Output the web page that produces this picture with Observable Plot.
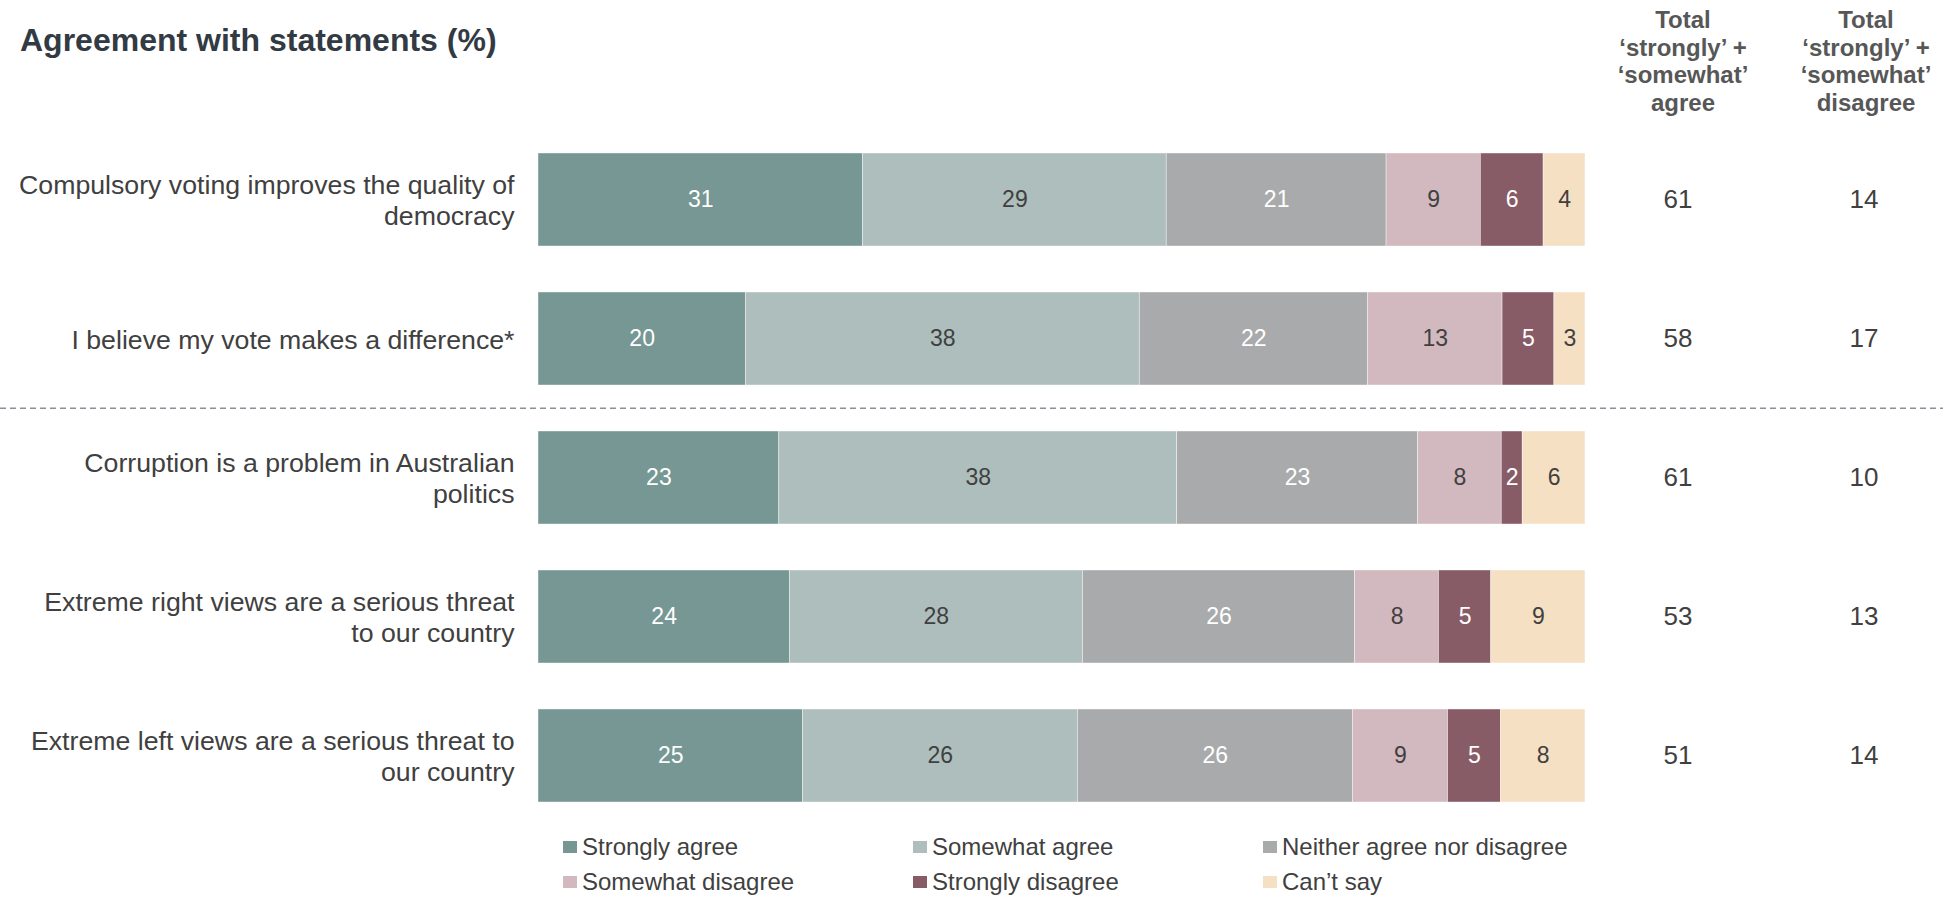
<!DOCTYPE html>
<html>
<head>
<meta charset="utf-8">
<script src="https://cdn.jsdelivr.net/npm/d3@7"></script>
<script src="https://cdn.jsdelivr.net/npm/@observablehq/plot@0.6"></script>
<style>
  html, body { margin: 0; padding: 0; background: #ffffff; }
  #wrap { position: relative; width: 1950px; height: 898px; font-family: "Liberation Sans", Arial, sans-serif; overflow: hidden; }
  #chart { position: absolute; left: 0; top: 0; }
  #title { position: absolute; left: 20px; top: 24px; font-size: 32px; line-height: 32px; font-weight: bold; color: #323a44; white-space: nowrap; }
  .head { position: absolute; top: 6px; width: 200px; text-align: center; font-size: 24px; line-height: 27.5px; font-weight: bold; color: #575757; }
  #legend { position: absolute; left: 563px; top: 829px; display: grid; grid-template-columns: 350px 350px 350px; }
  .item { display: flex; align-items: center; height: 35px; font-size: 24px; color: #404040; white-space: nowrap; }
  .sw { width: 14px; height: 12px; margin-right: 5px; flex: none; }
</style>
</head>
<body>
<div id="wrap">
  <div id="chart"></div>
  <div id="title"></div>
  <div id="headA" class="head" style="left:1583px"></div>
  <div id="headB" class="head" style="left:1766px"></div>
  <div id="legend"></div>
</div>
<script>
const titleText = "Agreement with statements (%)";
const headerAgree = ["Total", "‘strongly’ +", "‘somewhat’", "agree"];
const headerDisagree = ["Total", "‘strongly’ +", "‘somewhat’", "disagree"];

const statements = [
  "Compulsory voting improves the quality of democracy",
  "I believe my vote makes a difference*",
  "Corruption is a problem in Australian politics",
  "Extreme right views are a serious threat to our country",
  "Extreme left views are a serious threat to our country"
];
const statementLabels = [
  "Compulsory voting improves the quality of\ndemocracy",
  "I believe my vote makes a difference*",
  "Corruption is a problem in Australian\npolitics",
  "Extreme right views are a serious threat\nto our country",
  "Extreme left views are a serious threat to\nour country"
];
const responses = ["Strongly agree", "Somewhat agree", "Neither agree nor disagree", "Somewhat disagree", "Strongly disagree", "Can’t say"];
const responseColors = ["#769794", "#adbebd", "#a9aaab", "#d2b8bf", "#885c66", "#f6e0c4"];
const whiteLabelResponses = ["Strongly agree", "Neither agree nor disagree", "Strongly disagree"];

const stronglyAgree    = [31, 20, 23, 24, 25];
const somewhatAgree    = [29, 38, 38, 28, 26];
const neither          = [21, 22, 23, 26, 26];
const somewhatDisagree = [9, 13, 8, 8, 9];
const stronglyDisagree = [6, 5, 2, 5, 5];
const cantSay          = [4, 3, 6, 9, 8];
const totalAgree       = [61, 58, 61, 53, 51];
const totalDisagree    = [14, 17, 10, 13, 14];

const series = [stronglyAgree, somewhatAgree, neither, somewhatDisagree, stronglyDisagree, cantSay];
const data = statements.flatMap((s, i) => responses.map((r, j) => ({statement: s, response: r, value: series[j][i]})));

const stackOpts = {x: "value", y: "statement", z: "response", order: responses, offset: "normalize"};

const chart = Plot.plot({
  width: 1950,
  height: 898,
  marginLeft: 538,
  marginRight: 365,
  marginTop: 129,
  marginBottom: 72,
  style: {fontFamily: "'Liberation Sans', Arial, sans-serif", background: "transparent"},
  x: {axis: null, domain: [0, 1]},
  y: {axis: null, domain: statements, paddingInner: 0.333, paddingOuter: 0.1667},
  color: {domain: responses, range: responseColors},
  marks: [
    Plot.barX(data, Plot.stackX({...stackOpts, fill: "response", stroke: "white", strokeWidth: 0.6, strokeOpacity: 0.7})),
    Plot.text(data, Plot.stackX({...stackOpts, text: d => whiteLabelResponses.includes(d.response) ? String(d.value) : null, fill: "white", fontSize: 23})),
    Plot.text(data, Plot.stackX({...stackOpts, text: d => whiteLabelResponses.includes(d.response) ? null : String(d.value), fill: "#404040", fontSize: 23})),
    Plot.text(statements, {y: d => d, text: (d, i) => statementLabels[i], frameAnchor: "left", textAnchor: "end", dx: -24, fontSize: 26.7, lineHeight: 1.16, fill: "#404040"}),
    Plot.text(statements, {y: d => d, text: (d, i) => String(totalAgree[i]), frameAnchor: "right", dx: 107, fontSize: 26, fill: "#404040"}),
    Plot.text(statements, {y: d => d, text: (d, i) => String(totalDisagree[i]), frameAnchor: "right", dx: 293, fontSize: 26, fill: "#404040"}),
    Plot.ruleY([statements[2]], {y: d => d, dy: -69.65, insetLeft: -538, insetRight: -358, stroke: "#8a9199", strokeWidth: 1.5, strokeDasharray: "6,4"})
  ]
});
document.getElementById("chart").appendChild(chart);

document.getElementById("title").textContent = titleText;
document.getElementById("headA").innerHTML = headerAgree.map(t => `<div>${t}</div>`).join("");
document.getElementById("headB").innerHTML = headerDisagree.map(t => `<div>${t}</div>`).join("");
const legend = document.getElementById("legend");
responses.forEach((r, i) => {
  const item = document.createElement("div");
  item.className = "item";
  item.innerHTML = `<span class="sw" style="background:${responseColors[i]}"></span><span>${r}</span>`;
  legend.appendChild(item);
});
</script>
</body>
</html>
